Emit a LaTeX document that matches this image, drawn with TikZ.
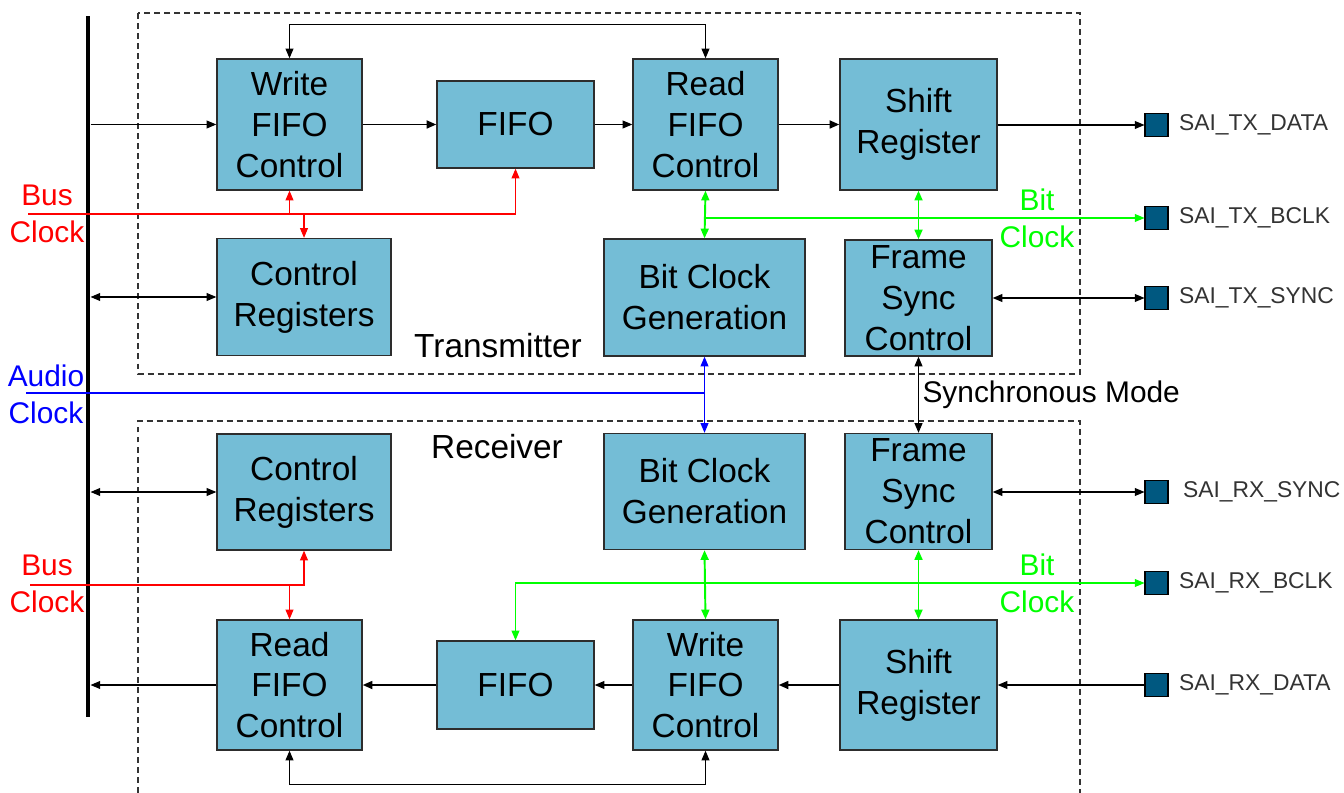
\documentclass[tikz,border=0pt]{standalone}
\usepackage{fontspec}
\setmainfont{Liberation Sans}
\usetikzlibrary{arrows.meta}
\definecolor{blkfill}{RGB}{116,189,214}
\definecolor{padfill}{RGB}{0,88,128}
\definecolor{blkline}{RGB}{45,45,45}

\begin{document}
\begin{tikzpicture}[x=0.02cm, y=-0.02cm, line width=0.6pt,
    >={Triangle[length=5.5pt,width=4.5pt]},
    blk/.style={draw=blkline, line width=0.8pt, fill=blkfill, align=center, inner sep=0pt,
        font=\fontsize{19}{23.3}\selectfont},
    padsq/.style={draw=black, line width=0.6pt, fill=padfill, minimum size=0.46cm, inner sep=0pt},
    padlbl/.style={inner sep=0pt, text=black!80, font=\fontsize{13}{15}\selectfont},
    sig/.style={align=center, font=\fontsize{17}{21}\selectfont},
    unitbox/.style={black!80, dash pattern=on 3.4pt off 2.3pt}]
    \useasboundingbox (0,0) rectangle (1344,793);

    % System bus
    \node[fill=black, inner sep=0pt, minimum width=0.08cm, minimum height=14.02cm] (bus) at (88,366.5) {};

    % Transmitter / receiver outlines
    \draw[unitbox] (138,13) rectangle (1080,374);
    \draw[unitbox] (138,793) |- (1080,421) -- (1080,793);
    \node[font=\fontsize{19}{23}\selectfont] (txlbl) at (498,346) {Transmitter};
    \node[font=\fontsize{19}{23}\selectfont] (rxlbl) at (497,447) {Receiver};

    % Transmitter blocks
    \node[blk, minimum width=2.9cm, minimum height=2.62cm] (txwfc) at (289.5,124.5) {Write\\FIFO\\Control};
    \node[blk, minimum width=3.14cm, minimum height=1.74cm] (txfifo) at (515.5,124.5) {FIFO};
    \node[blk, minimum width=2.9cm, minimum height=2.62cm] (txrfc) at (705.5,124.5) {Read\\FIFO\\Control};
    \node[blk, minimum width=3.14cm, minimum height=2.62cm] (txsr) at (918.5,124.5) {Shift\\Register};
    \node[blk, minimum width=3.48cm, minimum height=2.34cm] (txcr) at (304,297) {Control\\Registers};
    \node[blk, minimum width=4.02cm, minimum height=2.34cm] (txbcg) at (704.5,297.5) {Bit Clock\\Generation};
    \node[blk, minimum width=2.94cm, minimum height=2.32cm] (txfsc) at (918.5,298) {Frame\\Sync\\Control};

    % Receiver blocks
    \node[blk, minimum width=3.48cm, minimum height=2.32cm] (rxcr) at (304,492) {Control\\Registers};
    \node[blk, minimum width=4.02cm, minimum height=2.32cm] (rxbcg) at (704.5,491.5) {Bit Clock\\Generation};
    \node[blk, minimum width=2.94cm, minimum height=2.32cm] (rxfsc) at (918.5,491.5) {Frame\\Sync\\Control};
    \node[blk, minimum width=2.9cm, minimum height=2.6cm] (rxrfc) at (289.5,685) {Read\\FIFO\\Control};
    \node[blk, minimum width=3.14cm, minimum height=1.76cm] (rxfifo) at (515.5,685) {FIFO};
    \node[blk, minimum width=2.9cm, minimum height=2.6cm] (rxwfc) at (705.5,685) {Write\\FIFO\\Control};
    \node[blk, minimum width=3.14cm, minimum height=2.6cm] (rxsr) at (918.5,685) {Shift\\Register};

    % Pads
    \node[padsq, label={[padlbl, label distance=0.2cm]right:SAI\_TX\_DATA}] (txdata) at (1156.5,125) {};
    \node[padsq, label={[padlbl, label distance=0.2cm]right:SAI\_TX\_BCLK}] (txbclk) at (1156.5,218) {};
    \node[padsq, label={[padlbl, label distance=0.2cm]right:SAI\_TX\_SYNC}] (txsync) at (1156.5,298) {};
    \node[padsq, label={[padlbl, label distance=0.28cm]right:SAI\_RX\_SYNC}] (rxsync) at (1156.5,492) {};
    \node[padsq, label={[padlbl, label distance=0.2cm]right:SAI\_RX\_BCLK}] (rxbclk) at (1156.5,583) {};
    \node[padsq, label={[padlbl, label distance=0.2cm]right:SAI\_RX\_DATA}] (rxdata) at (1156.5,685) {};

    % Clock labels
    \node[sig, text=red] (tbuslbl) at (47,214) {Bus\\Clock};
    \node[sig, text=red] (rbuslbl) at (47,584) {Bus\\Clock};
    \node[sig, text=blue] (audiolbl) at (46,394) {Audio\\Clock};
    \node[sig, text=green] (tbitlbl) at (1037,218) {Bit\\Clock};
    \node[sig, text=green] (rbitlbl) at (1037,583) {Bit\\Clock};
    \coordinate (tbusclk) at (28,214);
    \coordinate (rbusclk) at (30,585);
    \coordinate (audioclk) at (26,393);

    % Transmit data path
    \draw[->] (bus.east |- txwfc.west) -- (txwfc.west);
    \draw[->, line width=1.1pt] (txwfc) -- (txfifo);
    \draw[->] (txfifo) -- (txrfc);
    \draw[->, line width=1.1pt] (txrfc) -- (txsr);
    \draw[->] (txsr.east |- txdata.west) -- (txdata.west);
    \draw[<->] (txwfc.north) -- ++(0,-34) -| (txrfc.north);
    \draw[<->] (bus.east |- txcr.west) -- (txcr.west);
    \draw[<->] (txfsc.east |- txsync.west) -- (txsync.west);

    % Transmit clocks
    \draw[red, ->] (tbusclk) -| (txfifo.south);
    \draw[red, ->] (txwfc.south |- tbusclk) -- (txwfc.south);
    \draw[red, ->] (txcr.north |- tbusclk) -- (txcr.north);
    \draw[green, <->, line width=1.1pt] (txrfc.south) -- (txbcg.north);
    \draw[green, ->] (txrfc.south |- txbclk.west) -- (txbclk.west);
    \draw[green, <->, line width=1.1pt] (txsr.south) -- (txfsc.north);

    % Shared clocks
    \draw[blue] (audioclk) -- (txbcg.south |- audioclk);
    \draw[blue, <->] (txbcg.south) -- (rxbcg.north);
    \draw[<->] (txfsc.south) -- node[right, sig, inner sep=2pt] {Synchronous Mode} (rxfsc.north);

    % Receive data path
    \draw[->] (rxdata.west) -- (rxsr.east |- rxdata.west);
    \draw[->, line width=1.1pt] (rxsr) -- (rxwfc);
    \draw[->] (rxwfc) -- (rxfifo);
    \draw[->, line width=1.1pt] (rxfifo) -- (rxrfc);
    \draw[->] (rxrfc.west) -- (bus.east |- rxrfc.west);
    \draw[<->] (rxrfc.south) -- ++(0,34) -| (rxwfc.south);
    \draw[<->] (bus.east |- rxcr.west) -- (rxcr.west);
    \draw[<->] (rxfsc.east |- rxsync.west) -- (rxsync.west);

    % Receive clocks
    \draw[red, ->] (rbusclk) -| (rxcr.south);
    \draw[red, ->] (rxrfc.north |- rbusclk) -- (rxrfc.north);
    \draw[green, <->, line width=1.1pt] (rxbcg.south) -- (rxwfc.north);
    \draw[green, <->] (rxfifo.north) |- (rxbclk.west);
    \draw[green, <->, line width=1.1pt] (rxfsc.south) -- (rxsr.north);
\end{tikzpicture}
\end{document}
